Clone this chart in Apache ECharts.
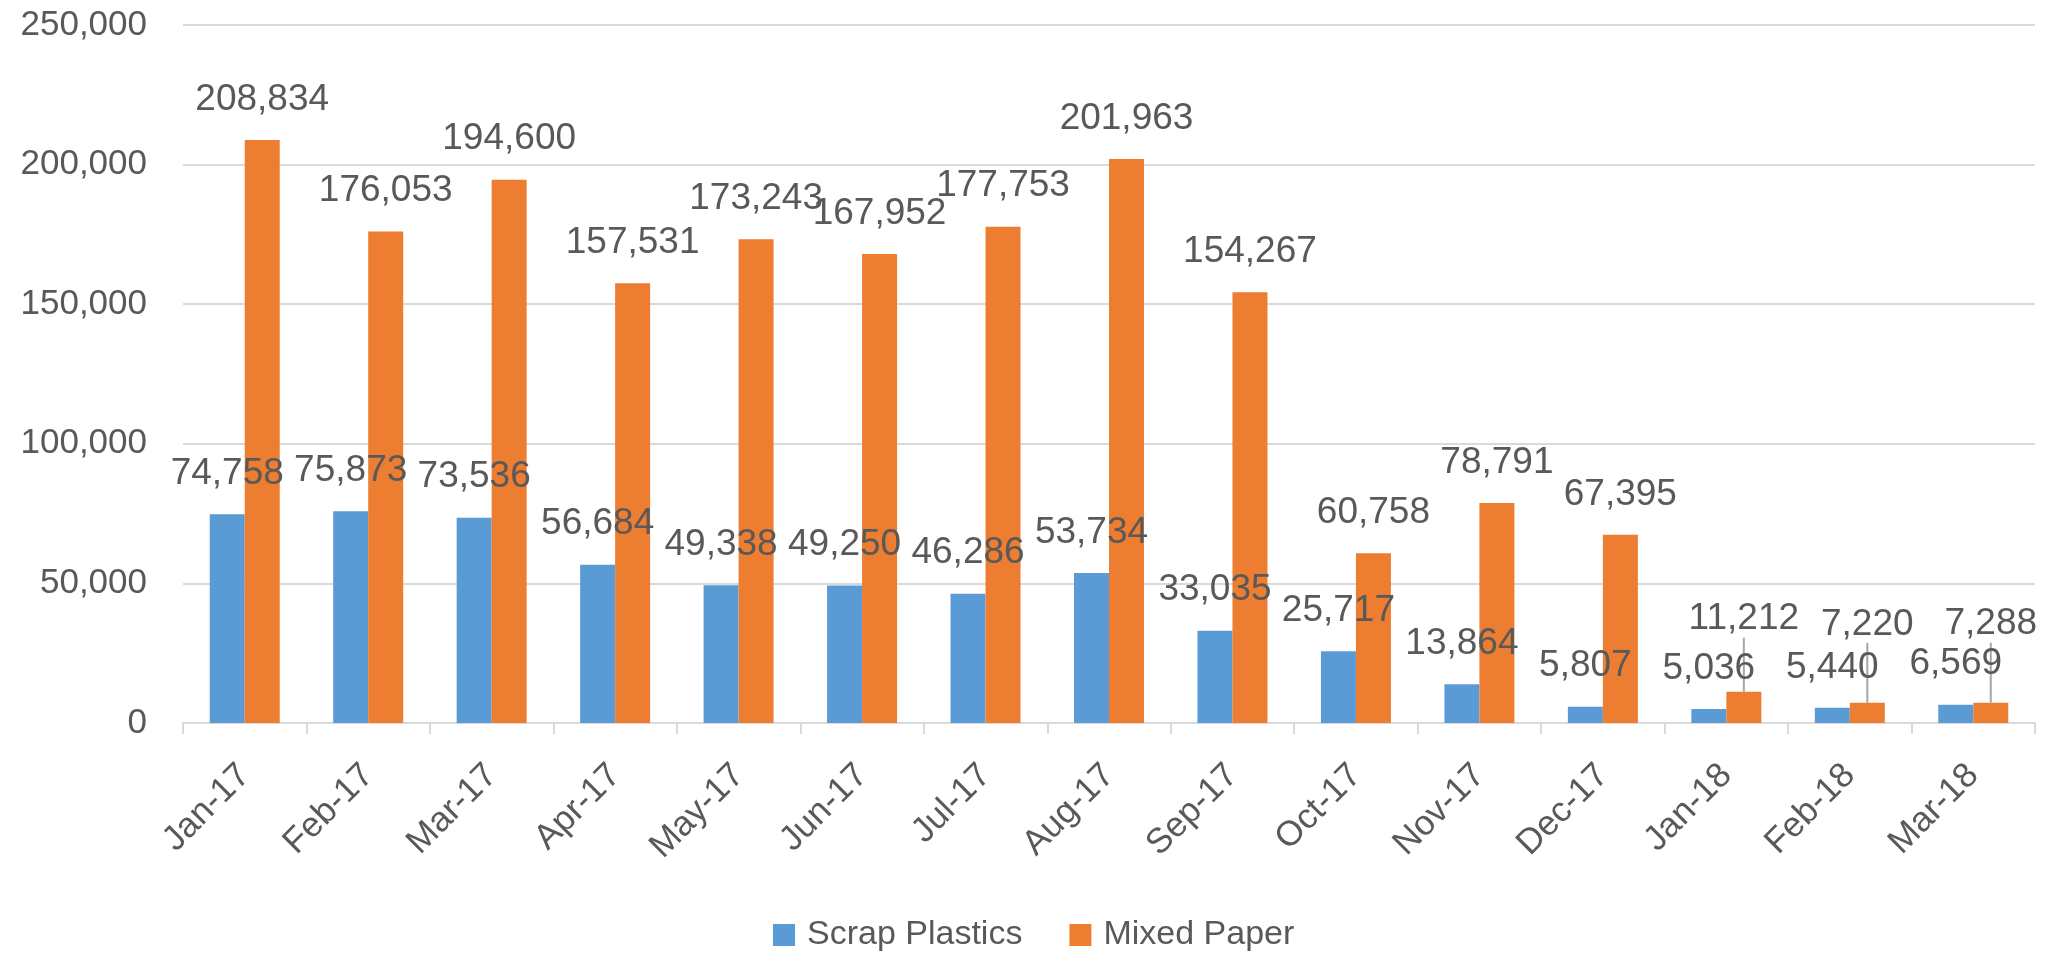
<!DOCTYPE html>
<html>
<head>
<meta charset="utf-8">
<script src="https://cdn.jsdelivr.net/npm/echarts@6/dist/echarts.min.js"></script>
<style>
  html, body { margin: 0; padding: 0; background: #fff; }
  #chart { width: 2047px; height: 963px; }
</style>
</head>
<body>
<div id="chart"></div>
<script>
const categories = ['Jan-17','Feb-17','Mar-17','Apr-17','May-17','Jun-17','Jul-17','Aug-17','Sep-17','Oct-17','Nov-17','Dec-17','Jan-18','Feb-18','Mar-18'];
const scrapPlastics = [74758, 75873, 73536, 56684, 49338, 49250, 46286, 53734, 33035, 25717, 13864, 5807, 5036, 5440, 6569];
const mixedPaper = [208834, 176053, 194600, 157531, 173243, 167952, 177753, 201963, 154267, 60758, 78791, 67395, 11212, 7220, 7288];
const yTicks = [0, 50000, 100000, 150000, 200000, 250000];

// label lifts (px) for labels moved up with leader lines
const paperLabelLift = {12: 32, 13: 38, 14: 38};

const FONT = 'Liberation Sans';
const TEXT = '#595959';
const fmt = v => Number(v).toLocaleString('en-US');

const paperData = mixedPaper.map((v, i) => paperLabelLift[i]
  ? {value: v, labelLine: {show: true, lineStyle: {color: '#a6a6a6', width: 2}}}
  : {value: v});

const chart = echarts.init(document.getElementById('chart'), null, {renderer: 'canvas'});
chart.setOption({
  animation: false,
  textStyle: {fontFamily: FONT},
  grid: {left: 183, right: 12, top: 25, bottom: 240, containLabel: false},
  legend: {
    left: 773, top: 918, padding: 0,
    itemWidth: 22, itemHeight: 22, itemGap: 47,
    icon: 'rect',
    textStyle: {fontSize: 34, color: TEXT, fontFamily: FONT, padding: [0, 0, 0, 7]},
    data: ['Scrap Plastics', 'Mixed Paper']
  },
  xAxis: {
    type: 'category',
    data: categories,
    axisLine: {lineStyle: {color: '#d9d9d9', width: 2}},
    axisTick: {show: true, length: 11, lineStyle: {color: '#d9d9d9', width: 2}},
    axisLabel: {rotate: 45, fontSize: 35, color: TEXT, margin: 47, fontFamily: FONT}
  },
  yAxis: {
    type: 'value',
    min: yTicks[0], max: yTicks[yTicks.length - 1], interval: yTicks[1] - yTicks[0],
    axisLine: {show: false},
    axisTick: {show: false},
    splitLine: {lineStyle: {color: '#d9d9d9', width: 2}},
    axisLabel: {fontSize: 35, color: TEXT, margin: 36, fontFamily: FONT, formatter: v => fmt(v)}
  },
  series: [
    {
      name: 'Scrap Plastics', type: 'bar', data: scrapPlastics,
      barWidth: 35, barGap: '0%',
      itemStyle: {color: '#5B9BD5'},
      label: {show: true, position: 'top', distance: 22, fontSize: 37, color: TEXT, fontFamily: FONT, formatter: p => fmt(p.value)}
    },
    {
      name: 'Mixed Paper', type: 'bar', data: paperData,
      barWidth: 35, barGap: '0%',
      itemStyle: {color: '#ED7D31'},
      label: {show: true, position: 'top', distance: 22, fontSize: 37, color: TEXT, fontFamily: FONT, formatter: p => fmt(p.value)},
      labelLine: {show: false},
      labelLayout: p => (paperLabelLift[p.dataIndex] ? {dy: -paperLabelLift[p.dataIndex]} : {})
    }
  ]
});
</script>
</body>
</html>
